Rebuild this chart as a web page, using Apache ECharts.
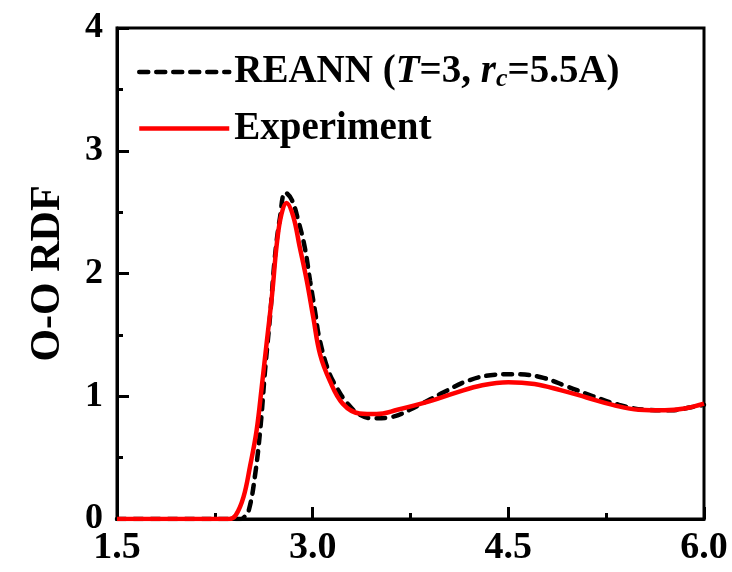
<!DOCTYPE html>
<html>
<head>
<meta charset="utf-8">
<script src="https://cdn.jsdelivr.net/npm/echarts@6/dist/echarts.min.js"></script>
<style>
  html, body { margin: 0; padding: 0; background: #fff; }
  #chart { width: 732px; height: 572px; }
</style>
</head>
<body>
<div id="chart"></div>
<script>
// O-O RDF
const expX = [1.5, 2.0, 2.36, 2.41, 2.47, 2.52, 2.57, 2.61, 2.65, 2.69, 2.725, 2.76, 2.80, 2.85, 2.90, 2.955, 3.005, 3.057, 3.13, 3.23, 3.36, 3.49, 3.65, 3.9, 4.1, 4.3, 4.5, 4.7, 4.9, 5.1, 5.3, 5.5, 5.7, 5.85, 6.0]
const expY = [0, 0, 0, 0.03, 0.18, 0.43, 0.72, 1.08, 1.46, 1.84, 2.24, 2.48, 2.575, 2.47, 2.22, 1.94, 1.64, 1.34, 1.13, 0.94, 0.86, 0.855, 0.89, 0.96, 1.03, 1.09, 1.115, 1.10, 1.05, 0.99, 0.93, 0.89, 0.885, 0.90, 0.94]
const reannX = [1.5, 2.0, 2.44, 2.47, 2.51, 2.56, 2.60, 2.635, 2.675, 2.71, 2.75, 2.79, 2.84, 2.89, 2.94, 2.98, 3.02, 3.05, 3.12, 3.185, 3.26, 3.36, 3.47, 3.6, 3.8, 4.0, 4.2, 4.4, 4.55, 4.75, 4.95, 5.15, 5.35, 5.55, 5.75, 5.9, 6.0]
const reannY = [0, 0, 0, 0.01, 0.07, 0.37, 0.75, 1.21, 1.67, 2.13, 2.46, 2.66, 2.60, 2.43, 2.21, 1.94, 1.68, 1.48, 1.21, 1.07, 0.95, 0.85, 0.82, 0.83, 0.92, 1.03, 1.13, 1.175, 1.18, 1.155, 1.08, 1.0, 0.93, 0.89, 0.885, 0.91, 0.93]

const font = '"Liberation Serif", "Times New Roman", serif'

function pairs(xs, ys) {
  return xs.map((x, i) => [x, ys[i]])
}

const chart = echarts.init(document.getElementById('chart'))
chart.setOption({
  animation: false,
  grid: {
    left: 117,
    right: 28,
    top: 28,
    bottom: 53,
    show: true,
    borderColor: '#000',
    borderWidth: 3
  },
  legend: {
    orient: 'vertical',
    left: 132,
    top: 47,
    itemWidth: 90,
    itemHeight: 14,
    itemGap: 17,
    data: ['REANN', 'Experiment'],
    itemStyle: { opacity: 0 },
    lineStyle: { width: 4.5 },
    formatter: (name) => {
      if (name === 'REANN') {
        return '{b|REANN (}{i|T}{b|=3, }{i|r}{s|c}{b|=5.5A)}'
      }
      return '{b|Experiment}'
    },
    textStyle: {
      fontFamily: font,
      fontWeight: 'bold',
      fontSize: 39,
      color: '#000',
      rich: {
        b: { fontFamily: font, fontWeight: 'bold', fontSize: 39, lineHeight: 40, color: '#000' },
        i: { fontFamily: font, fontWeight: 'bold', fontStyle: 'italic', fontSize: 39, lineHeight: 40, color: '#000' },
        s: { fontFamily: font, fontWeight: 'bold', fontStyle: 'italic', fontSize: 26, lineHeight: 40, color: '#000', padding: [14, 0, 0, 0] }
      }
    }
  },
  xAxis: {
    type: 'value',
    min: 1.5,
    max: 6,
    interval: 1.5,
    axisLine: { lineStyle: { color: '#000', width: 3 } },
    axisTick: { inside: true, length: 12, lineStyle: { color: '#000', width: 3 } },
    minorTick: { show: true, splitNumber: 2, length: 6, lineStyle: { color: '#000', width: 3 } },
    splitLine: { show: false },
    axisLabel: {
      fontFamily: font,
      fontWeight: 'bold',
      fontSize: 38,
      color: '#000',
      margin: 10,
      formatter: (v) => v.toFixed(1)
    }
  },
  yAxis: {
    type: 'value',
    min: 0,
    max: 4,
    interval: 1,
    name: 'O-O RDF',
    nameLocation: 'middle',
    nameGap: 48,
    nameTextStyle: { fontFamily: font, fontWeight: 'bold', fontSize: 42, color: '#000' },
    axisLine: { lineStyle: { color: '#000', width: 3 } },
    axisTick: { inside: true, length: 12, lineStyle: { color: '#000', width: 3 } },
    minorTick: { show: true, splitNumber: 2, length: 6, lineStyle: { color: '#000', width: 3 } },
    splitLine: { show: false },
    axisLabel: {
      fontFamily: font,
      fontWeight: 'bold',
      fontSize: 36,
      color: '#000',
      margin: 14
    }
  },
  series: [
    {
      name: 'REANN',
      type: 'line',
      data: pairs(reannX, reannY),
      smooth: 0.4,
      symbol: 'none',
      lineStyle: { color: '#000', width: 4.5, type: [9, 8], cap: 'round' },
      itemStyle: { color: '#000' },
      z: 2
    },
    {
      name: 'Experiment',
      type: 'line',
      data: pairs(expX, expY),
      smooth: 0.4,
      symbol: 'none',
      lineStyle: { color: '#ff0000', width: 4.5 },
      itemStyle: { color: '#ff0000' },
      z: 3
    }
  ]
})
</script>
</body>
</html>
